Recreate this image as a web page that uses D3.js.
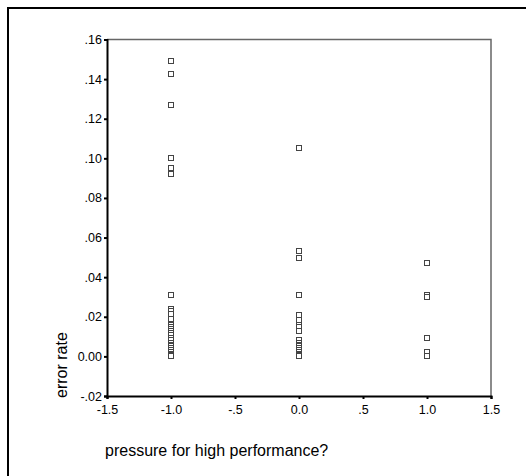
<!DOCTYPE html>
<html>
<head>
<meta charset="utf-8">
<script src="https://cdn.jsdelivr.net/npm/d3@7"></script>
<style>
  html, body { margin: 0; padding: 0; background: #fff; }
  svg { display: block; }
  text { font-family: Arial, "Liberation Sans", sans-serif; fill: #000; }
</style>
</head>
<body>
<svg id="chart" width="526" height="476"></svg>
<script>
// Error rate by level of "pressure for high performance?" (-1, 0, 1)
const pressureLevels = [-1, 0, 1];
const errorAtMinus1 = [0.149, 0.1424, 0.127, 0.1002, 0.095, 0.092,
  0.031, 0.024, 0.023, 0.0215, 0.019, 0.016, 0.015, 0.014, 0.013, 0.012,
  0.011, 0.0095, 0.0085, 0.007, 0.006, 0.005, 0.004, 0.003, 0.002, 0.001,
  0.0005, 0];
const errorAt0 = [0.105, 0.0533, 0.0495, 0.031, 0.021, 0.0186, 0.016,
  0.015, 0.0128, 0.0085, 0.007, 0.006, 0.005, 0.004, 0.003, 0.002, 0.001,
  0.0005, 0];
const errorAt1 = [0.047, 0.031, 0.0302, 0.0095, 0.002, 0];
const xTicks = [-1.5, -1.0, -0.5, 0.0, 0.5, 1.0, 1.5];
const xTickLabels = ["-1.5", "-1.0", "-.5", "0.0", ".5", "1.0", "1.5"];
const yTicks = [-0.02, 0, 0.02, 0.04, 0.06, 0.08, 0.10, 0.12, 0.14, 0.16];
const yTickLabels = ["-.02", "0.00", ".02", ".04", ".06", ".08", ".10", ".12", ".14", ".16"];

const points = [errorAtMinus1, errorAt0, errorAt1]
  .flatMap((vals, i) => vals.map(v => ({ x: pressureLevels[i], y: v })));

const svg = d3.select("#chart");
const plot = { left: 107, right: 491, top: 39.5, bottom: 396 };

const x = d3.scaleLinear().domain([-1.5, 1.5]).range([plot.left, plot.right]);
const y = d3.scaleLinear().domain([-0.02, 0.16]).range([plot.bottom, plot.top]);

// outer frame
svg.append("path")
  .attr("d", "M8,480 V8 H530")
  .attr("fill", "none").attr("stroke", "#000").attr("stroke-width", 2);

// top and right edges of the plot box
svg.append("path")
  .attr("d", `M${plot.left},${plot.top} H${plot.right} V${plot.bottom}`)
  .attr("fill", "none").attr("stroke", "#666").attr("stroke-width", 1.5);

// x axis
const xAxis = d3.axisBottom(x).tickValues(xTicks)
  .tickFormat((d, i) => xTickLabels[i]).tickSize(3).tickPadding(6);
const gx = svg.append("g").attr("transform", `translate(0,${plot.bottom})`).call(xAxis);

// y axis
const yAxis = d3.axisLeft(y).tickValues(yTicks)
  .tickFormat((d, i) => yTickLabels[i]).tickSize(3).tickPadding(2);
const gy = svg.append("g").attr("transform", `translate(${plot.left},0)`).call(yAxis);

[gx, gy].forEach(g => {
  g.select(".domain").attr("stroke", "#000").attr("stroke-width", 2);
  g.selectAll(".tick line").attr("stroke", "#000").attr("stroke-width", 2);
  g.selectAll(".tick text").attr("font-size", 12.5)
    .attr("font-family", "Arial, 'Liberation Sans', sans-serif").attr("fill", "#000");
});

// scatter points as open squares
svg.append("g").selectAll("rect").data(points).join("rect")
  .attr("x", d => Math.round(x(d.x)) - 2.5)
  .attr("y", d => Math.round(y(d.y)) - 2.5)
  .attr("width", 5).attr("height", 5)
  .attr("fill", "#fff").attr("stroke", "#444").attr("stroke-width", 1);

// axis titles
svg.append("text")
  .attr("x", 105).attr("y", 456)
  .attr("font-size", 16)
  .text("pressure for high performance?");

svg.append("text")
  .attr("transform", "translate(67,398) rotate(-90)")
  .attr("font-size", 16)
  .text("error rate");
</script>
</body>
</html>
